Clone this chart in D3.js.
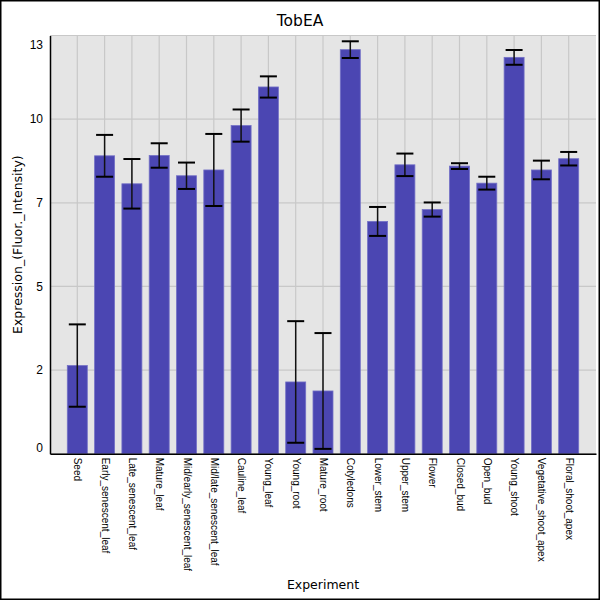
<!DOCTYPE html>
<html>
<head>
<meta charset="utf-8">
<script src="https://cdn.jsdelivr.net/npm/d3@7"></script>
<style>
  body { margin: 0; background: #fff; }
  svg { display: block; font-family: "DejaVu Sans", sans-serif; }
</style>
</head>
<body>
<svg id="chart" width="600" height="600"></svg>
<script>
var experiments = ["Seed", "Early_senescent_leaf", "Late_senescent_leaf", "Mature_leaf",
  "Mid/early_senescent_leaf", "Mid/late_senescent_leaf", "Cauline_leaf", "Young_leaf",
  "Young_root", "Mature_root", "Cotyledons", "Lower_stem", "Upper_stem", "Flower",
  "Closed_bud", "Open_bud", "Young_shoot", "Vegetative_shoot_apex", "Floral_shoot_apex"];
var means = [2.74, 9.26, 8.39, 9.27, 8.64, 8.82, 10.2, 11.4,
  2.23, 1.95, 12.56, 7.22, 8.98, 7.59, 8.94, 8.41, 12.32, 8.82, 9.17];
var errors = [1.28, 0.65, 0.77, 0.38, 0.41, 1.12, 0.5, 0.33,
  1.89, 1.8, 0.26, 0.45, 0.35, 0.22, 0.09, 0.2, 0.23, 0.29, 0.21];
var yTicks = [0, 2.6, 5.2, 7.8, 10.4, 13];

(function() {
  var svg = d3.select("#chart");
  var pLeft = 50, pRight = 596, pTop = 35.5, pBottom = 453.7;

  var x = d3.scalePoint().domain(experiments).range([pLeft, pRight]).padding(1);
  var y = d3.scaleLinear().domain([0, 13]).range([pBottom, pTop]);
  var barW = 20, capW = 17;

  // outer frame
  svg.append("rect").attr("x", 0.75).attr("y", 0.75).attr("width", 598.5).attr("height", 598.5)
    .attr("fill", "#fff").attr("stroke", "#000").attr("stroke-width", 1.5);

  // plot background
  svg.append("rect").attr("x", pLeft).attr("y", pTop).attr("width", pRight - pLeft).attr("height", pBottom - pTop)
    .attr("fill", "#e5e5e5");

  // grid
  svg.append("g").selectAll("line").data(yTicks).join("line")
    .attr("x1", pLeft).attr("x2", pRight)
    .attr("y1", function(d) { return y(d); }).attr("y2", function(d) { return y(d); })
    .attr("stroke", "#c8c8c8").attr("stroke-width", 1.2);
  svg.append("g").selectAll("line").data(experiments).join("line")
    .attr("x1", function(d) { return x(d); }).attr("x2", function(d) { return x(d); })
    .attr("y1", pTop).attr("y2", pBottom)
    .attr("stroke", "#c8c8c8").attr("stroke-width", 1.2);

  // bars
  svg.append("g").selectAll("rect").data(experiments).join("rect")
    .attr("x", function(d) { return x(d) - barW / 2; })
    .attr("y", function(d, i) { return y(means[i]); })
    .attr("width", barW)
    .attr("height", function(d, i) { return pBottom - y(means[i]); })
    .attr("fill", "#4b46b2").attr("stroke", "#7370c6").attr("stroke-width", 0.8);

  // error bars
  var eb = svg.append("g").selectAll("g").data(experiments).join("g");
  eb.append("line")
    .attr("x1", function(d) { return x(d); }).attr("x2", function(d) { return x(d); })
    .attr("y1", function(d, i) { return y(means[i] + errors[i]); })
    .attr("y2", function(d, i) { return y(means[i] - errors[i]); })
    .attr("stroke", "#111").attr("stroke-width", 1.5);
  [1, -1].forEach(function(s) {
    eb.append("line")
      .attr("x1", function(d) { return x(d) - capW / 2; }).attr("x2", function(d) { return x(d) + capW / 2; })
      .attr("y1", function(d, i) { return y(means[i] + s * errors[i]); })
      .attr("y2", function(d, i) { return y(means[i] + s * errors[i]); })
      .attr("stroke", "#000").attr("stroke-width", 2);
  });

  // axes
  var yAxis = svg.append("g").attr("transform", "translate(" + pLeft + ",0)")
    .call(d3.axisLeft(y).tickValues(yTicks).tickSize(0).tickPadding(7)
      .tickFormat(function(d) { return Math.floor(d + 1e-9); }));
  yAxis.select(".domain").attr("stroke", "#000").attr("stroke-width", 1.5);
  yAxis.selectAll("text").attr("font-size", 12).attr("fill", "#000")
    .attr("transform", function(d) { return d === 0 ? "translate(0,-6)" : d === 13 ? "translate(0,9)" : null; });

  var xAxis = svg.append("g").attr("transform", "translate(0," + pBottom + ")")
    .call(d3.axisBottom(x).tickSize(0).tickPadding(0));
  xAxis.select(".domain").attr("stroke", "#000").attr("stroke-width", 1.5);
  xAxis.selectAll("text")
    .attr("font-size", 10).attr("fill", "#000")
    .attr("text-anchor", "start").attr("dy", null).attr("y", 0)
    .attr("transform", "translate(-3.5,4) rotate(90)");

  // title and axis labels
  svg.append("text").attr("x", 300).attr("y", 26).attr("text-anchor", "middle")
    .attr("font-size", 15.5).text("TobEA");
  svg.append("text").attr("x", (pLeft + pRight) / 2).attr("y", 589).attr("text-anchor", "middle")
    .attr("font-size", 12.5).text("Experiment");
  svg.append("text").attr("transform", "translate(22," + (pTop + pBottom) / 2 + ") rotate(-90)")
    .attr("text-anchor", "middle").attr("font-size", 12.5).text("Expression_(Fluor._Intensity)");
})();
</script>
</body>
</html>
